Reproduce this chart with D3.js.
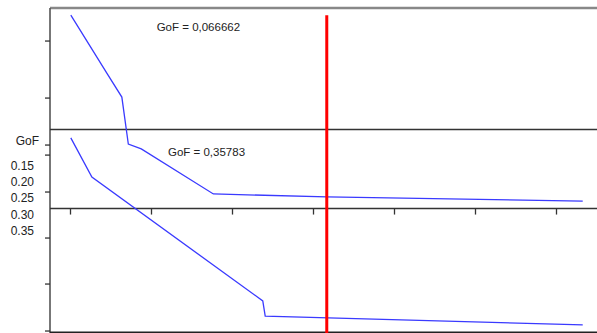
<!DOCTYPE html>
<html>
<head>
<meta charset="utf-8">
<script src="https://cdn.jsdelivr.net/npm/d3@7"></script>
<style>
  body { margin: 0; background: #fff; }
  svg { display: block; font-family: "Liberation Sans", Arial, sans-serif; }
</style>
</head>
<body>
<div id="main"></div>
<script>
// chart data (x in step units, y as fraction of the plot height)
const fitA_x = [0.1, 4.7, 6.4, 7.2, 8.8, 17.7, 31.7, 63.3];
const fitA_y = [0.978, 0.793, 0.725, 0.58, 0.565, 0.426, 0.417, 0.404];
const fitB_x = [0.1, 2.7, 23.8, 24.1, 63.3];
const fitB_y = [0.599, 0.478, 0.096, 0.049, 0.022];
const gofLabels = ['GoF = 0,066662', 'GoF = 0,35783'];
const gofLabelX = [10.7, 12.1];
const gofLabelY = [0.928, 0.543];
const cutX = 31.7;
const xTicks = [0, 10, 20, 30, 40, 50, 60];
const leftTicks = [0.898, 0.722, 0.577, 0.546, 0.432, 0.29, 0.148, 0.003];
const panelEdges = [0.625, 0.381];
const sideLabels = ['GoF', '0.15', '0.20', '0.25', '0.30', '0.35'];
const sideLabelY = [0.577, 0.5, 0.451, 0.4, 0.35, 0.298];

const W = 597;
const H = 333;
const LEFT = 50;
const TOP = 8;
const BOTTOM = 332;

const svg = d3.select('#main').append('svg')
  .attr('width', W)
  .attr('height', H);

// scales
const xScale = d3.scaleLinear().domain([0, 60]).range([70, 556]);
const yScale = d3.scaleLinear().domain([0, 1]).range([BOTTOM, TOP]);

// frame: top border, left axis, bottom border
svg.append('line')
  .attr('x1', LEFT).attr('x2', W)
  .attr('y1', TOP).attr('y2', TOP)
  .attr('stroke', '#888').attr('stroke-width', 2.5);

svg.append('line')
  .attr('x1', LEFT).attr('x2', LEFT)
  .attr('y1', TOP).attr('y2', H)
  .attr('stroke', '#555').attr('stroke-width', 1.6);

svg.append('line')
  .attr('x1', LEFT).attr('x2', W)
  .attr('y1', BOTTOM + 0.5).attr('y2', BOTTOM + 0.5)
  .attr('stroke', '#222').attr('stroke-width', 2);

// left ticks
svg.selectAll('.ltick')
  .data(leftTicks)
  .enter()
  .append('line')
  .attr('class', 'ltick')
  .attr('x1', LEFT - 5).attr('x2', LEFT)
  .attr('y1', (d) => yScale(d)).attr('y2', (d) => yScale(d))
  .attr('stroke', '#333').attr('stroke-width', 1.3);

// panel separators
svg.selectAll('.sep')
  .data(panelEdges)
  .enter()
  .append('line')
  .attr('class', 'sep')
  .attr('x1', LEFT).attr('x2', W)
  .attr('y1', (d) => yScale(d)).attr('y2', (d) => yScale(d))
  .attr('stroke', '#333').attr('stroke-width', 1.6);

// bottom axis of the middle panel
const xAxisGroup = svg.append('g')
  .attr('transform', `translate(0,${yScale(panelEdges[1])})`)
  .call(d3.axisBottom(xScale).tickValues(xTicks).tickSize(6).tickFormat(''));
xAxisGroup.select('.domain').remove();
xAxisGroup.selectAll('.tick line').attr('stroke', '#333').attr('stroke-width', 1.3);

// side labels
svg.selectAll('.side')
  .data(sideLabels)
  .enter()
  .append('text')
  .attr('class', 'side')
  .attr('x', (d, i) => (i === 0 ? 39 : 34))
  .attr('y', (d, i) => yScale(sideLabelY[i]))
  .attr('text-anchor', 'end')
  .attr('font-size', 12)
  .attr('fill', '#222')
  .text((d) => d);

// fit curves
const line = d3.line()
  .x((d) => xScale(d[0]))
  .y((d) => yScale(d[1]));

const curves = [d3.zip(fitA_x, fitA_y), d3.zip(fitB_x, fitB_y)];

svg.selectAll('.curve')
  .data(curves)
  .enter()
  .append('path')
  .attr('class', 'curve')
  .attr('d', line)
  .attr('fill', 'none')
  .attr('stroke', '#3a3aff')
  .attr('stroke-width', 1.3);

// GoF annotations
svg.selectAll('.gof')
  .data(gofLabels)
  .enter()
  .append('text')
  .attr('class', 'gof')
  .attr('x', (d, i) => xScale(gofLabelX[i]))
  .attr('y', (d, i) => yScale(gofLabelY[i]))
  .attr('font-size', 11.5)
  .attr('fill', '#222')
  .text((d) => d);

// red cut line
svg.append('line')
  .attr('x1', xScale(cutX)).attr('x2', xScale(cutX))
  .attr('y1', yScale(0.978)).attr('y2', H)
  .attr('stroke', '#ff0000').attr('stroke-width', 3);
</script>
</body>
</html>
